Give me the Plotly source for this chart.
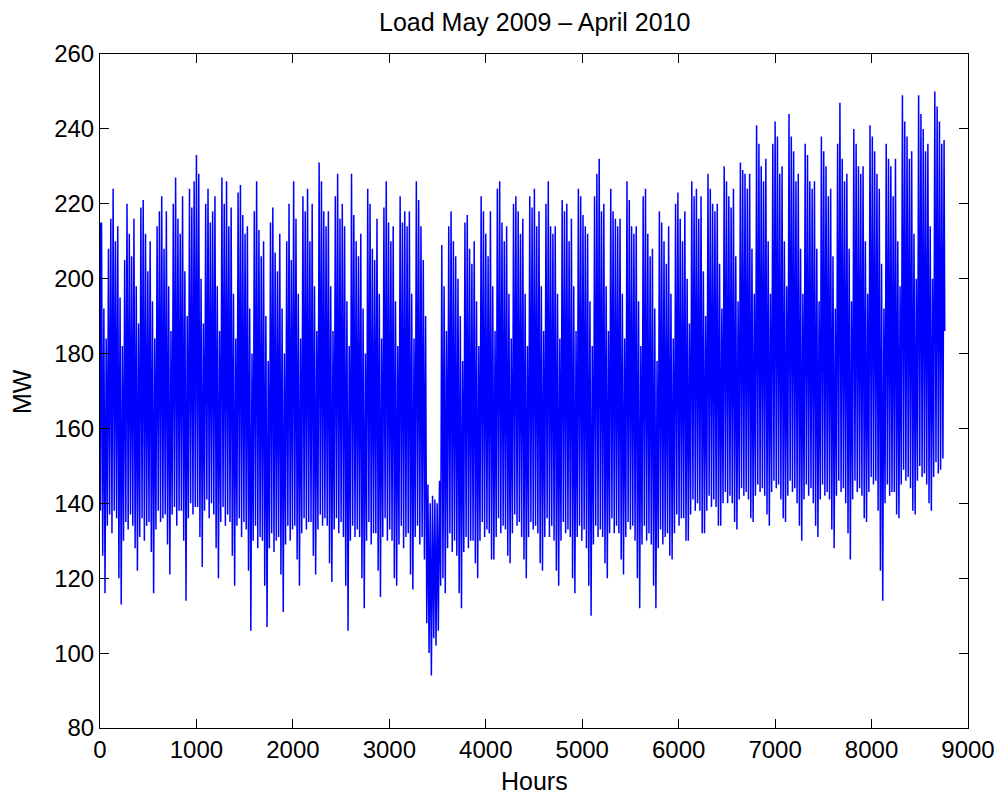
import plotly.graph_objects as go

# Values: one night trough and one day peak per day (MW),
# 365 days starting 1 May 2009 (hour 0).
daily_peak = [
    215, 192, 184, 208, 216, 224, 210,
    214, 195, 182, 205, 220, 212, 206,
    216, 198, 188, 219, 221, 212, 202,
    210, 194, 184, 214, 218, 222, 208,
    218, 198, 186, 220, 227, 216, 212,
    222, 202, 190, 224, 219, 226, 233,
    228, 200, 188, 220, 224, 215, 218,
    222, 198, 186, 227, 220, 226, 214,
    219, 196, 184, 223, 225, 217, 212,
    214, 192, 180, 218, 226, 213, 206,
    210, 190, 178, 215, 219, 207, 202,
    212, 192, 180, 210, 220, 205, 226,
    216, 196, 184, 222, 218, 224, 210,
    220, 198, 186, 231, 226, 218, 214,
    218, 198, 186, 222, 228, 216, 220,
    214, 194, 182, 228, 217, 210, 206,
    212, 192, 180, 224, 220, 208, 205,
    216, 196, 184, 219, 226, 215, 210,
    214, 194, 182, 222, 215, 218, 214,
    218, 196, 184, 226, 221, 214, 205,
    190, 145, 140, 142, 141, 140, 146,
    209, 198, 186, 214, 218, 210, 206,
    200, 190, 178, 215, 217, 208, 204,
    210, 194, 182, 222, 218, 212, 206,
    218, 198, 186, 224, 226, 215, 210,
    214, 196, 184, 220, 222, 218, 212,
    216, 196, 182, 222, 219, 224, 214,
    218, 198, 186, 220, 226, 214, 212,
    214, 196, 184, 221, 218, 220, 210,
    216, 198, 186, 224, 222, 217, 214,
    212, 194, 182, 222, 228, 232, 218,
    220, 198, 186, 224, 218, 216, 214,
    216, 196, 184, 226, 221, 214, 212,
    214, 194, 182, 222, 224, 212, 206,
    208, 192, 178, 218, 215, 210, 204,
    214, 196, 184, 220, 223, 216, 210,
    218, 200, 188, 226, 222, 224, 216,
    222, 202, 190, 228, 224, 220, 218,
    220, 204, 192, 230, 226, 222, 219,
    224, 206, 194, 231, 229, 228, 224,
    228, 208, 196, 241, 236, 230, 226,
    232, 210, 196, 236, 242, 238, 228,
    230, 210, 198, 244, 238, 234, 226,
    228, 208, 196, 236, 233, 226, 224,
    226, 208, 194, 238, 234, 230, 222,
    224, 206, 192, 236, 247, 232, 226,
    228, 208, 194, 240, 236, 230, 228,
    230, 210, 196, 241, 238, 234, 228,
    224, 204, 192, 236, 232, 230, 222,
    232, 210, 198, 249, 242, 238, 232,
    234, 212, 200, 249, 244, 240, 234,
    236, 214, 200, 250, 246, 242, 236,
    237,
]

daily_trough = [
    138, 126, 116, 134, 137, 132, 138,
    136, 120, 113, 130, 135, 133, 137,
    134, 128, 122, 131, 136, 130, 134,
    135, 127, 116, 133, 138, 135, 136,
    137, 129, 121, 137, 139, 134, 138,
    138, 130, 114, 136, 140, 137, 139,
    139, 131, 123, 138, 141, 136, 140,
    137, 128, 120, 135, 139, 134, 137,
    135, 126, 118, 134, 136, 131, 135,
    133, 122, 106, 130, 134, 128, 131,
    130, 118, 107, 128, 132, 127, 130,
    131, 121, 111, 129, 134, 130, 133,
    134, 125, 118, 132, 136, 133, 135,
    135, 126, 121, 133, 137, 134, 136,
    134, 124, 119, 133, 136, 132, 135,
    131, 118, 106, 130, 134, 131, 133,
    131, 120, 112, 130, 135, 129, 132,
    132, 122, 115, 131, 136, 130, 133,
    130, 120, 118, 129, 134, 128, 131,
    132, 121, 117, 131, 134, 129, 131,
    125, 108, 100, 94, 104, 102, 106,
    118, 120, 116, 128, 132, 127, 130,
    126, 116, 112, 127, 131, 128, 130,
    130, 124, 120, 130, 135, 131, 133,
    132, 125, 125, 131, 136, 132, 134,
    133, 126, 124, 132, 137, 134, 135,
    131, 125, 120, 131, 135, 133, 134,
    132, 124, 122, 131, 136, 131, 134,
    130, 122, 118, 130, 135, 132, 133,
    131, 120, 116, 131, 134, 130, 133,
    128, 118, 110, 129, 134, 131, 133,
    131, 124, 120, 132, 136, 132, 134,
    132, 125, 121, 131, 135, 133, 134,
    130, 120, 112, 129, 134, 130, 132,
    129, 118, 112, 128, 133, 129, 131,
    132, 126, 125, 132, 137, 134, 136,
    136, 130, 130, 137, 141, 138, 140,
    138, 132, 132, 138, 142, 139, 141,
    139, 134, 134, 140, 143, 140, 142,
    140, 135, 133, 141, 144, 142, 143,
    141, 136, 135, 142, 145, 143, 144,
    142, 137, 134, 143, 146, 144, 145,
    141, 136, 135, 142, 146, 143, 144,
    140, 134, 130, 141, 145, 142, 144,
    140, 134, 131, 141, 145, 142, 143,
    141, 133, 128, 142, 146, 143, 144,
    140, 132, 125, 141, 146, 143, 144,
    142, 136, 135, 143, 147, 145, 146,
    138, 122, 114, 140, 145, 142, 143,
    143, 137, 136, 145, 149, 146, 147,
    144, 138, 137, 146, 150, 147, 148,
    145, 140, 138, 147, 151, 148, 149,
    152,
]

trough_hour_of_day = 4
peak_hour_of_day = 16
first_hour, first_value = 0, 215
last_hour, last_value = 8759, 186

x_ticks = [0, 1000, 2000, 3000, 4000, 5000, 6000, 7000, 8000, 9000]
y_ticks = [80, 100, 120, 140, 160, 180, 200, 220, 240, 260]

hours = [first_hour]
load = [first_value]
for d, (lo, hi) in enumerate(zip(daily_trough, daily_peak)):
    hours += [24 * d + trough_hour_of_day, 24 * d + peak_hour_of_day]
    load += [lo, hi]
hours.append(last_hour)
load.append(last_value)

FONT = "Liberation Sans, Arial, Helvetica, sans-serif"

fig = go.Figure(go.Scatter(x=hours, y=load, mode="lines",
                           line=dict(color="#0000FF", width=1.5), hoverinfo="skip"))

axis_common = dict(showgrid=False, zeroline=False, showline=True, linecolor="black",
                   linewidth=1, mirror="ticks", ticks="inside", ticklen=9,
                   tickwidth=1, tickcolor="black",
                   tickfont=dict(family=FONT, size=24, color="black"))

fig.update_xaxes(range=[0, 9000], tickvals=x_ticks, **axis_common)
fig.update_yaxes(range=[80, 260], tickvals=y_ticks, **axis_common)

fig.update_layout(
    width=1006, height=796,
    margin=dict(l=100, r=38, t=54, b=68),
    paper_bgcolor="white", plot_bgcolor="white",
    showlegend=False,
    font=dict(family=FONT, size=24, color="black"),
    annotations=[
        dict(text="Load May 2009 \u2013 April 2010", xref="paper", yref="paper",
             x=0.5, y=1.0475, showarrow=False, font=dict(size=25),
             xanchor="center", yanchor="middle"),
        dict(text="Hours", xref="paper", yref="paper", x=0.5, y=-0.0786,
             showarrow=False, font=dict(size=25), xanchor="center", yanchor="middle"),
        dict(text="MW", xref="paper", yref="paper", x=-0.0899, y=0.5,
             showarrow=False, textangle=-90, font=dict(size=25),
             xanchor="center", yanchor="middle"),
    ],
)

fig.write_html("out.html")
